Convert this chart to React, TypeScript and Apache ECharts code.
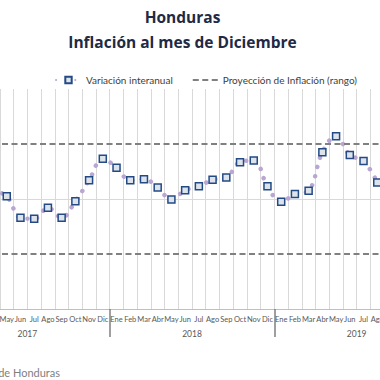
import React, { useEffect, useRef } from "react";
import * as echarts from "echarts";

const MONTHS = ["Ene", "Feb", "Mar", "Abr", "May", "Jun", "Jul", "Ago", "Sep", "Oct", "Nov", "Dic"];
const YEARS = ["2017", "2018", "2019"];
const CATEGORIES = YEARS.flatMap((y) => MONTHS.map((m) => `${m} ${y}`));

// Variación interanual (%), Ene 2017 – Dic 2019
const VARIACION: (number | null)[] = [
  null, null, null, 4.15, 4.05, 3.66, 3.64, 3.84, 3.66, 3.96, 4.34, 4.73,
  4.57, 4.34, 4.36, 4.21, 3.99, 4.16, 4.23, 4.35, 4.39, 4.67, 4.70, 4.23,
  3.95, 4.09, 4.15, 4.85, 5.14, 4.80, 4.69, 4.30, null, null, null, null,
];

const PROY_MIN = 3;
const PROY_MAX = 5;

const FONT = "Lato, 'Open Sans', sans-serif";
const TITLE_FONT = "'Open Sans', Lato, sans-serif";

export default function App() {
  const ref = useRef<HTMLDivElement>(null);
  useEffect(() => {
    document.body.style.margin = "0";
    if (!ref.current) return;
    const chart = echarts.init(ref.current, null, { renderer: "svg" });
    chart.setOption({
      animation: false,
      textStyle: { fontFamily: FONT },
      graphic: [
        {
          type: "text",
          x: 182.5,
          y: 17,
          style: {
            text: "Honduras",
            align: "center",
            verticalAlign: "middle",
            fontSize: 15.5,
            fontWeight: "bold",
            fontFamily: TITLE_FONT,
            fill: "#1f2a44",
          },
        },
        {
          type: "text",
          x: 182.5,
          y: 42,
          style: {
            text: "Inflación al mes de Diciembre",
            align: "center",
            verticalAlign: "middle",
            fontSize: 15.5,
            fontWeight: "bold",
            fontFamily: TITLE_FONT,
            fill: "#1f2a44",
          },
        },
        {
          type: "text",
          x: 60,
          y: 372,
          style: {
            text: "Fuente: Banco Central de Honduras",
            align: "right",
            verticalAlign: "middle",
            fontSize: 11,
            fontFamily: FONT,
            fill: "#7f7f7f",
          },
        },
      ],
      legend: {
        left: 50,
        top: 70,
        itemWidth: 25,
        itemHeight: 8,
        itemGap: 20,
        textStyle: { fontSize: 10, color: "#404040", fontFamily: FONT },
        data: [
          { name: "Variación interanual" },
          {
            name: "Proyección de Inflación (rango)",
            icon:
              "path://M0,0h0.01v0.01h-0.01z M0,3h6v2h-6z M9.5,3h6v2h-6z M19,3h6v2h-6z M24.99,7.99h0.01v0.01h-0.01z",
          },
        ],
      },
      grid: { left: -55, top: 89, width: 494, height: 220, outerBoundsMode: "none", containLabel: false },
      xAxis: [
        {
          type: "category",
          position: "bottom",
          data: CATEGORIES,
          boundaryGap: true,
          axisLine: { onZero: false, lineStyle: { color: "#bfbfbf", width: 1 } },
          axisTick: { show: false },
          axisLabel: {
            interval: 0,
            fontSize: 7.5,
            color: "#595959",
            margin: 6,
            formatter: (v: string) => v.split(" ")[0],
          },
          splitLine: { show: true, interval: 0, lineStyle: { color: "#d9d9d9", width: 1 } },
        },
        {
          type: "category",
          position: "bottom",
          data: YEARS,
          boundaryGap: true,
          axisLine: { show: false, onZero: false },
          axisTick: { show: true, length: 28, lineStyle: { color: "#7f7f7f", width: 1.5 } },
          axisLabel: { fontSize: 8.5, color: "#595959", margin: 20 },
          splitLine: { show: false },
        },
      ],
      yAxis: {
        type: "value",
        min: 2,
        max: 6,
        interval: 2,
        axisLabel: { show: false },
        axisLine: { show: false },
        axisTick: { show: false },
        splitLine: {
          show: true,
          lineStyle: { color: ["#d9d9d9", "#d9d9d9", "rgba(0,0,0,0)"], width: 1 },
        },
      },
      series: [
        {
          name: "Proyección de Inflación (rango)",
          type: "line",
          data: [],
          symbol: "none",
          itemStyle: { color: "#808080" },
          lineStyle: { color: "#808080", type: [5, 3], width: 2 },
          markLine: {
            silent: true,
            symbol: "none",
            label: { show: false },
            lineStyle: { color: "#808080", type: [6, 3.5], width: 2 },
            data: [{ yAxis: PROY_MAX }, { yAxis: PROY_MIN }],
          },
        },
        {
          name: "Variación interanual",
          type: "line",
          data: VARIACION,
          smooth: 0.4,
          symbol: "rect",
          symbolSize: 7,
          showAllSymbol: true,
          itemStyle: { color: "#dde3ea", borderColor: "#244a86", borderWidth: 1.5 },
          lineStyle: { color: "#b9a6d3", width: 4.5, type: [0.1, 9.5], cap: "round" },
          z: 3,
        },
      ],
    });
    return () => chart.dispose();
  }, []);
  return <div ref={ref} style={{ width: 380, height: 380 }} />;
}
